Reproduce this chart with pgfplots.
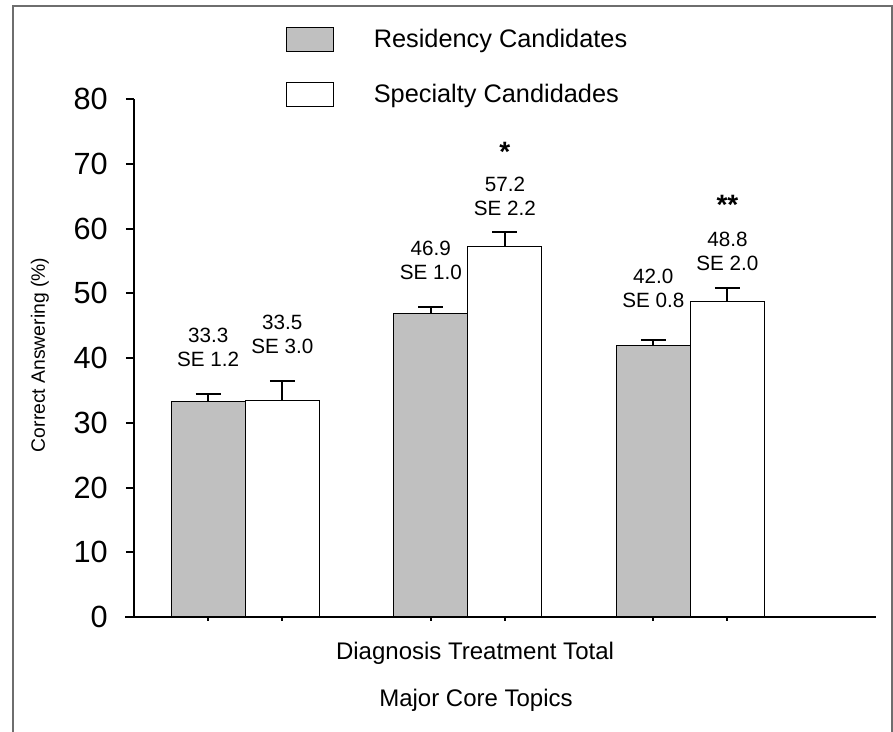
\documentclass[border=0pt]{standalone}
\usepackage{fontspec}
\setmainfont{Liberation Sans}
\usepackage{pgfplots}
\pgfplotsset{compat=1.18}
\definecolor{residency}{RGB}{192,192,192}
\definecolor{frame}{RGB}{110,110,110}
\begin{document}
\begin{tikzpicture}[x=0.75pt,y=0.75pt]
\useasboundingbox (0,0) rectangle (893,732);
% outer frame (open at the bottom)
\draw[frame, line width=1.5pt] (12.5,0) -- (12.5,725.5) -- (891.5,725.5) -- (891.5,0);
\begin{axis}[
  at={(100.5pt,86.25pt)}, anchor=south west,
  scale only axis, width=556.5pt, height=388.5pt,
  clip=false,
  xmin=-0.5, xmax=2.834, ymin=0, ymax=80,
  ybar=0pt, bar width=0.333,
  axis x line*=bottom, axis y line*=left,
  x axis line style={line width=2pt, shorten <=-6.75pt},
  y axis line style={line width=1.8pt},
  xtick=\empty,
  ytick={0,10,...,80},
  tick align=outside, major tick length=6pt,
  y tick style={line width=1.5pt, black},
  /pgf/number format/assume math mode=true,
  yticklabel style={font=\fontsize{23}{23}\selectfont, inner sep=0pt, xshift=-13.5pt},
  ylabel={Correct Answering (\%)},
  ylabel style={at={(axis description cs:-0.120,0.506)}, anchor=base,
    font=\fontsize{14.5}{14.5}\selectfont},
  legend style={at={(axis description cs:0.2049,1.139)}, anchor=north west,
    draw=none, fill=none, inner sep=0pt, nodes={inner sep=0pt},
    font=\fontsize{19}{19}\selectfont, row sep=22pt, cells={anchor=west}},
  legend cell align=left,
  legend image code/.code={
    \draw[#1, line width=0.75pt] (0pt,-9pt) rectangle (35.25pt,9pt);
    \path[draw=none, fill=none] (35.25pt,0pt) -- (65.25pt,0pt);
  },
  error bars/y dir=plus, error bars/y explicit,
  error bars/error bar style={line width=1.5pt, black},
  error bars/error mark options={rotate=90, mark size=9.4pt, line width=1.5pt, black},
]
\addplot[fill=residency, draw=black, line width=0.75pt] coordinates {
  (0,33.3) +- (0,1.2)
  (1,46.9) +- (0,1.0)
  (2,42.0) +- (0,0.8)
};
\addlegendentry{Residency Candidates}
\addplot[fill=white, draw=black, line width=0.75pt] coordinates {
  (0,33.5) +- (0,3.0)
  (1,57.2) +- (0,2.2)
  (2,48.8) +- (0,2.0)
};
\addlegendentry{Specialty Candidades}

% small tick marks under the bars
\pgfplotsinvokeforeach{-0.1665,0.1665,0.8335,1.1665,1.8335,2.1665}{
  \draw[line width=1.5pt] (axis cs:#1,0) -- ++(0pt,-3pt);
}

% value labels
\begin{scope}[every node/.style={align=center, font=\fontsize{15.5}{18}\selectfont}]
\node at (axis cs:-0.1665,41.7) {33.3\\SE 1.2};
\node at (axis cs:0.1665,43.7) {33.5\\SE 3.0};
\node at (axis cs:0.8335,55.0) {46.9\\SE 1.0};
\node at (axis cs:1.1665,64.9) {57.2\\SE 2.2};
\node at (axis cs:1.8335,50.7) {42.0\\SE 0.8};
\node at (axis cs:2.1665,56.4) {48.8\\SE 2.0};
\end{scope}
\node[anchor=base, font=\fontsize{21}{21}\selectfont\bfseries] at (axis cs:1.1665,70.4) {*};
\node[anchor=base, font=\fontsize{21}{21}\selectfont\bfseries] at (axis cs:2.1665,62.1) {**};

% category line and axis title
\node[anchor=base, font=\fontsize{18}{18}\selectfont] at (axis description cs:0.4596,-0.083) {Diagnosis Treatment Total};
\node[anchor=base, font=\fontsize{18}{18}\selectfont] at (axis description cs:0.4609,-0.1737) {Major Core Topics};
\end{axis}
\end{tikzpicture}
\end{document}
